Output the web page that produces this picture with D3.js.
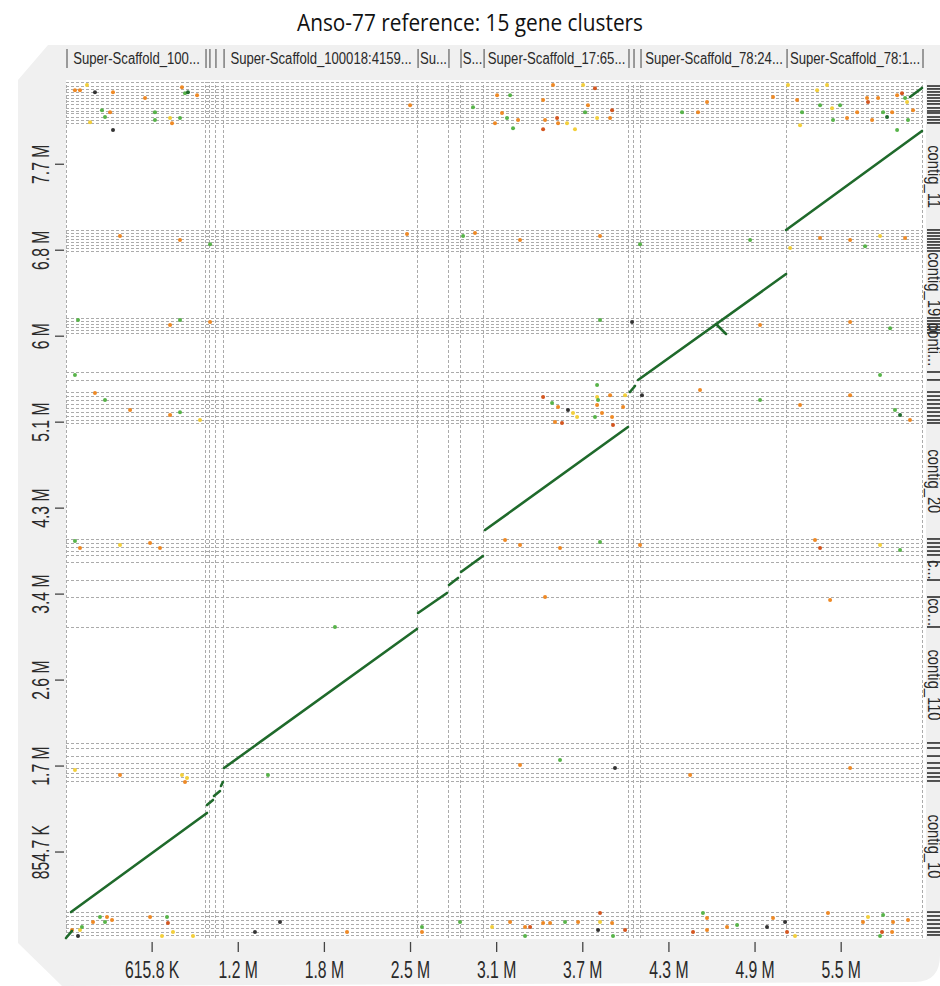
<!DOCTYPE html>
<html>
<head>
<meta charset="utf-8">
<script src="https://cdn.jsdelivr.net/npm/d3@7"></script>
<style>
body { margin: 0; background: #fff; }
svg { display: block; }
.lab { font-family: "Liberation Sans", Arial, sans-serif; fill: #2a2a2a; }
</style>
</head>
<body>
<svg id="chart" width="940" height="986"></svg>
<script>
// all positions in Mb
var X_MAX = 6.12, Y_MAX = 8.51;

var xTicks = [0.6158, 1.2316, 1.8474, 2.4632, 3.079, 3.6948, 4.3106, 4.9264, 5.5422];
var xTickLabels = ["615.8 K", "1.2 M", "1.8 M", "2.5 M", "3.1 M", "3.7 M", "4.3 M", "4.9 M", "5.5 M"];
var yTicks = [0.8547, 1.7094, 2.5641, 3.4188, 4.2735, 5.1282, 5.9829, 6.8376, 7.6923];
var yTickLabels = ["854.7 K", "1.7 M", "2.6 M", "3.4 M", "4.3 M", "5.1 M", "6 M", "6.8 M", "7.7 M"];

// target scaffolds (x) : start of each one
var targetStarts = [0, 0.994, 1.022, 1.065, 1.123, 2.510, 2.731, 2.817, 2.982, 4.018, 4.054, 4.104, 5.148];
var targetNames = ["Super-Scaffold_100...", "", "", "", "Super-Scaffold_100018:4159...", "Su...", "", "S...",
                   "Super-Scaffold_17:65...", "", "", "Super-Scaffold_78:24...", "Super-Scaffold_78:1..."];

// query contig boundaries (y)
var queryBounds = [0.030, 0.060, 0.099, 0.139, 0.179, 0.219, 0.258,
                   1.561, 1.601, 1.640, 1.690, 1.740, 1.809, 1.889, 1.939,
                   3.092, 3.390, 3.559, 3.738, 3.808, 3.847, 3.887, 3.927, 3.967,
                   5.120, 5.150, 5.190, 5.229, 5.269, 5.309, 5.349, 5.388, 5.428, 5.548, 5.627,
                   6.015, 6.045, 6.074, 6.104, 6.134, 6.164,
                   6.830, 6.860, 6.890, 6.920, 6.949, 6.979, 7.009, 7.039,
                   8.103, 8.133, 8.162, 8.202, 8.222, 8.252, 8.292, 8.321, 8.351, 8.381, 8.411, 8.441, 8.470];
var queryNames = ["contig_10", "contig_110", "co...", "c...", "contig_20", "conti...", "contig_19", "contig_11"];
var queryMids = [0.91, 2.515, 3.24, 3.66, 4.54, 5.90, 6.50, 7.57];

// main alignments [x1, y1, x2, y2]
var matches = [
  [0, 0, 0.043, 0.070],
  [0.036, 0.258, 1.008, 1.243],
  [1.008, 1.322, 1.051, 1.372],
  [1.058, 1.412, 1.101, 1.461],
  [1.108, 1.511, 1.122, 1.551],
  [1.130, 1.690, 2.509, 3.072],
  [2.517, 3.231, 2.724, 3.430],
  [2.738, 3.509, 2.803, 3.579],
  [2.824, 3.639, 2.981, 3.798],
  [2.996, 4.056, 4.018, 5.080],
  [4.032, 5.428, 4.068, 5.488],
  [4.090, 5.548, 5.148, 6.601],
  [4.647, 6.104, 4.719, 6.005],
  [5.148, 7.039, 6.120, 8.023],
  [6.034, 8.361, 6.120, 8.451]
];

// small hits [x, y, identity class]
var hitColors = {y: "#f3cf3b", o: "#ef8a26", r: "#d4561f", g: "#58b44a", d: "#1f6b2c", k: "#333333"};
var hits = [
  [0.064,8.429,"o"],[0.150,8.48,"y"],[0.207,8.409,"k"],[0.336,8.409,"o"],[0.257,8.230,"g"],[0.315,8.210,"o"],
  [0.172,8.111,"y"],[0.279,8.161,"g"],[0.336,8.032,"k"],[0.565,8.350,"o"],[0.636,8.210,"g"],[0.636,8.131,"g"],
  [0.744,8.151,"y"],[0.758,8.101,"o"],[0.829,8.459,"o"],[0.851,8.399,"g"],[0.872,8.409,"d"],[0.815,8.151,"g"],
  [0.937,8.379,"o"],[0.100,8.429,"o"],
  [2.460,8.280,"o"],[2.910,8.260,"g"],[3.082,8.379,"o"],[3.175,8.379,"g"],[3.117,8.201,"o"],[3.067,8.101,"o"],
  [3.153,8.151,"g"],[3.196,8.051,"g"],[3.232,8.131,"o"],[3.411,8.330,"o"],[3.482,8.48,"o"],[3.425,8.131,"o"],
  [3.411,8.041,"r"],[3.511,8.151,"r"],[3.518,8.101,"o"],[3.582,8.101,"y"],[3.697,8.48,"y"],[3.782,8.449,"r"],
  [3.732,8.280,"o"],[3.711,8.210,"g"],[3.797,8.151,"y"],[3.904,8.230,"r"],[3.890,8.151,"o"],[3.639,8.041,"y"],
  [4.583,8.310,"o"],[5.055,8.360,"o"],[5.162,8.48,"y"],[5.227,8.330,"o"],[5.262,8.210,"g"],[5.391,8.280,"g"],
  [5.477,8.250,"y"],[5.484,8.131,"g"],[5.534,8.280,"g"],[5.584,8.151,"o"],[5.727,8.350,"o"],[5.734,8.310,"r"],
  [5.806,8.350,"o"],[5.763,8.131,"o"],[5.842,8.210,"g"],[5.870,8.161,"d"],[5.906,8.210,"o"],[5.942,8.379,"o"],
  [5.977,8.399,"r"],[5.999,8.350,"g"],[6.013,8.310,"y"],[6.020,8.131,"g"],[6.056,8.230,"o"],[5.942,8.032,"g"],
  [5.248,8.081,"y"],[5.441,8.48,"y"],[5.370,8.429,"y"],[5.656,8.210,"o"],[4.404,8.210,"g"],[4.519,8.210,"o"],
  [0.815,6.938,"o"],[1.030,6.898,"g"],[0.386,6.978,"o"],[2.438,6.998,"o"],[2.839,6.978,"g"],[2.924,7.008,"o"],
  [3.246,6.938,"o"],[3.818,6.978,"o"],[4.104,6.898,"g"],[4.891,6.938,"g"],[5.391,6.958,"o"],[5.606,6.938,"o"],
  [5.820,6.978,"y"],[5.999,6.958,"o"],[5.713,6.878,"g"],[5.177,6.859,"y"],
  [0.086,6.143,"g"],[0.744,6.093,"o"],[0.815,6.143,"g"],[1.030,6.123,"o"],[3.818,6.143,"g"],[4.047,6.123,"k"],
  [4.962,6.093,"o"],[5.606,6.123,"o"],[5.892,6.063,"g"],
  [0.064,5.596,"g"],[0.207,5.417,"o"],[0.279,5.348,"g"],[0.458,5.248,"o"],[0.744,5.199,"o"],[0.815,5.228,"g"],
  [0.958,5.149,"y"],[4.533,5.447,"o"],[4.962,5.348,"g"],[5.248,5.298,"o"],[5.606,5.397,"o"],[5.927,5.248,"g"],
  [5.963,5.199,"d"],[6.034,5.149,"o"],[5.820,5.596,"g"],
  [3.797,5.497,"g"],[3.411,5.378,"r"],[3.475,5.318,"g"],[3.518,5.278,"o"],[3.589,5.248,"k"],[3.625,5.219,"y"],
  [3.496,5.129,"o"],[3.546,5.119,"r"],[3.654,5.179,"y"],[3.797,5.378,"y"],[3.804,5.348,"g"],[3.797,5.298,"o"],
  [3.782,5.179,"g"],[3.832,5.219,"o"],[3.890,5.397,"o"],[3.904,5.179,"o"],[3.911,5.099,"r"],[3.997,5.397,"y"],
  [3.983,5.278,"o"],[4.118,5.397,"k"],
  [0.064,3.946,"g"],[0.100,3.877,"o"],[0.386,3.906,"y"],[0.601,3.926,"o"],[0.672,3.877,"o"],[3.139,3.956,"o"],
  [3.246,3.906,"o"],[3.532,3.877,"o"],[3.818,3.936,"g"],[4.104,3.906,"o"],[5.355,3.956,"o"],[5.391,3.877,"r"],
  [5.820,3.906,"y"],[5.963,3.857,"g"],
  [3.425,3.390,"o"],[5.463,3.360,"o"],[1.923,3.092,"g"],
  [0.064,1.670,"y"],[0.386,1.620,"o"],[0.865,1.590,"y"],[0.851,1.551,"o"],[0.829,1.620,"y"],[1.444,1.620,"g"],
  [3.246,1.720,"o"],[3.532,1.769,"g"],[3.925,1.690,"k"],[4.462,1.620,"o"],[5.606,1.690,"o"],
  [0.043,0.080,"o"],[0.086,0.020,"k"],[0.100,0.080,"y"],[0.114,0.109,"g"],[0.193,0.159,"o"],[0.243,0.209,"g"],
  [0.279,0.159,"g"],[0.293,0.209,"o"],[0.329,0.179,"o"],[0.601,0.209,"o"],[0.722,0.209,"g"],[0.729,0.149,"r"],
  [0.765,0.060,"y"],[0.908,0.020,"y"],[0.686,0.020,"y"],[1.530,0.159,"k"],[1.351,0.060,"k"],[2.009,0.060,"o"],
  [2.545,0.109,"g"],[2.545,0.060,"o"],[2.817,0.159,"g"],[3.046,0.109,"y"],[3.175,0.159,"o"],[3.282,0.109,"o"],
  [3.318,0.109,"r"],[3.282,0.020,"g"],[3.411,0.149,"o"],[3.461,0.149,"o"],[3.568,0.159,"g"],[3.661,0.159,"o"],
  [3.818,0.249,"r"],[3.818,0.159,"y"],[3.804,0.080,"k"],[3.904,0.149,"o"],[3.997,0.080,"r"],[3.911,0.020,"g"],
  [4.554,0.249,"g"],[4.583,0.199,"o"],[4.583,0.080,"o"],[4.483,0.060,"r"],[4.726,0.109,"o"],[4.798,0.129,"g"],
  [5.012,0.109,"k"],[5.055,0.199,"o"],[5.141,0.159,"k"],[5.155,0.060,"r"],[5.212,0.020,"y"],[5.448,0.249,"o"],
  [5.698,0.159,"o"],[5.734,0.209,"y"],[5.842,0.229,"g"],[5.834,0.060,"r"],[5.913,0.159,"o"],[5.906,0.060,"o"],
  [6.020,0.179,"o"],[5.820,0.020,"g"]
];

var svg = d3.select("#chart");
var margin = {top: 80, left: 66, right: 18, bottom: 48};
var plotRight = 922, plotBottom = 938;
var narrow = 0.82; // Arial -> Arial Narrow

var x = d3.scaleLinear().domain([0, X_MAX]).range([margin.left, plotRight]);
var y = d3.scaleLinear().domain([0, Y_MAX]).range([plotBottom, margin.top + 2]);

// grey panel with cut corners
svg.append("path")
  .attr("d", "M48,45 L940,45 L940,955 Q940,982 915,982 L62,986 L18,943 L18,80 Z")
  .attr("fill", "#f0f0f0");
svg.append("rect")
  .attr("x", margin.left).attr("y", margin.top)
  .attr("width", 926 - margin.left).attr("height", plotBottom - margin.top + 1)
  .attr("fill", "#fff");

svg.append("text")
  .attr("x", 470).attr("y", 31)
  .attr("text-anchor", "middle")
  .attr("textLength", 346).attr("lengthAdjust", "spacingAndGlyphs")
  .style("font-family", "'Open Sans', 'Noto Sans', sans-serif")
  .style("font-size", "24px").style("fill", "#111")
  .text("Anso-77 reference: 15 gene clusters");

var grid = svg.append("g")
  .attr("stroke", "#ababab").attr("stroke-width", 1).attr("stroke-dasharray", "3,2");

// contig boundaries
grid.selectAll("line.h").data(queryBounds.concat([Y_MAX]))
  .enter().append("line").attr("class", "h")
  .attr("x1", x(0)).attr("x2", x(X_MAX))
  .attr("y1", function(d) { return Math.round(y(d)) + 0.5; })
  .attr("y2", function(d) { return Math.round(y(d)) + 0.5; });

grid.selectAll("line.v").data(targetStarts.concat([X_MAX]))
  .enter().append("line").attr("class", "v")
  .attr("y1", y(0)).attr("y2", y(Y_MAX))
  .attr("x1", function(d) { return Math.round(x(d)) + 0.5; })
  .attr("x2", function(d) { return Math.round(x(d)) + 0.5; });

// header with scaffold names
var header = svg.append("g");
header.selectAll("line").data(targetStarts.concat([X_MAX]))
  .enter().append("line")
  .attr("x1", function(d) { return x(d) + 1; }).attr("x2", function(d) { return x(d) + 1; })
  .attr("y1", 49).attr("y2", 68)
  .attr("stroke", "#444").attr("stroke-width", 1);
header.selectAll("text").data(targetStarts)
  .enter().append("text").attr("class", "lab")
  .attr("transform", function(d, i) {
    var end = i + 1 < targetStarts.length ? targetStarts[i + 1] : X_MAX;
    return "translate(" + ((x(d) + x(end)) / 2 + 1) + ",64) scale(" + narrow + ",1)";
  })
  .attr("text-anchor", "middle")
  .style("font-size", "16px")
  .text(function(d, i) { return targetNames[i]; });

// right strip: contig names and boundary marks
var strip = svg.append("g");
strip.selectAll("line").data(queryBounds)
  .enter().append("line")
  .attr("x1", 927).attr("x2", 940)
  .attr("y1", function(d) { return y(d); }).attr("y2", function(d) { return y(d); })
  .attr("stroke", "#2b2b2b").attr("stroke-width", 1.6);
strip.selectAll("text").data(queryMids)
  .enter().append("text").attr("class", "lab")
  .attr("transform", function(d) { return "translate(928," + y(d) + ") rotate(90) scale(" + narrow + ",1)"; })
  .attr("text-anchor", "middle")
  .style("font-size", "18px")
  .text(function(d, i) { return queryNames[i]; });

// hits
svg.append("g").selectAll("circle").data(hits)
  .enter().append("circle")
  .attr("cx", function(d) { return x(d[0]); })
  .attr("cy", function(d) { return y(d[1]); })
  .attr("r", 2)
  .attr("fill", function(d) { return hitColors[d[2]]; });

// main matches
svg.append("g").selectAll("line").data(matches)
  .enter().append("line")
  .attr("x1", function(d) { return x(d[0]); }).attr("y1", function(d) { return y(d[1]); })
  .attr("x2", function(d) { return x(d[2]); }).attr("y2", function(d) { return y(d[3]); })
  .attr("stroke", "#1f6a2b").attr("stroke-width", 2.6).attr("stroke-linecap", "round");

// axes
var xAxis = svg.append("g");
xAxis.selectAll("line").data(xTicks).enter().append("line")
  .attr("x1", function(d) { return x(d); }).attr("x2", function(d) { return x(d); })
  .attr("y1", 942).attr("y2", 952)
  .attr("stroke", "#444").attr("stroke-width", 1.3);
xAxis.selectAll("text").data(xTicks).enter().append("text").attr("class", "lab")
  .attr("transform", function(d) { return "translate(" + x(d) + ",978) scale(" + (narrow * 0.8) + ",1)"; })
  .attr("text-anchor", "middle")
  .style("font-size", "24px")
  .text(function(d, i) { return xTickLabels[i]; });

var yAxis = svg.append("g");
yAxis.selectAll("line").data(yTicks).enter().append("line")
  .attr("x1", 55).attr("x2", 64)
  .attr("y1", function(d) { return y(d); }).attr("y2", function(d) { return y(d); })
  .attr("stroke", "#444").attr("stroke-width", 1.3);
yAxis.selectAll("text").data(yTicks).enter().append("text").attr("class", "lab")
  .attr("transform", function(d) { return "translate(49," + y(d) + ") rotate(-90) scale(" + (narrow * 0.8) + ",1)"; })
  .attr("text-anchor", "middle")
  .style("font-size", "24px")
  .text(function(d, i) { return yTickLabels[i]; });
</script>
</body>
</html>
